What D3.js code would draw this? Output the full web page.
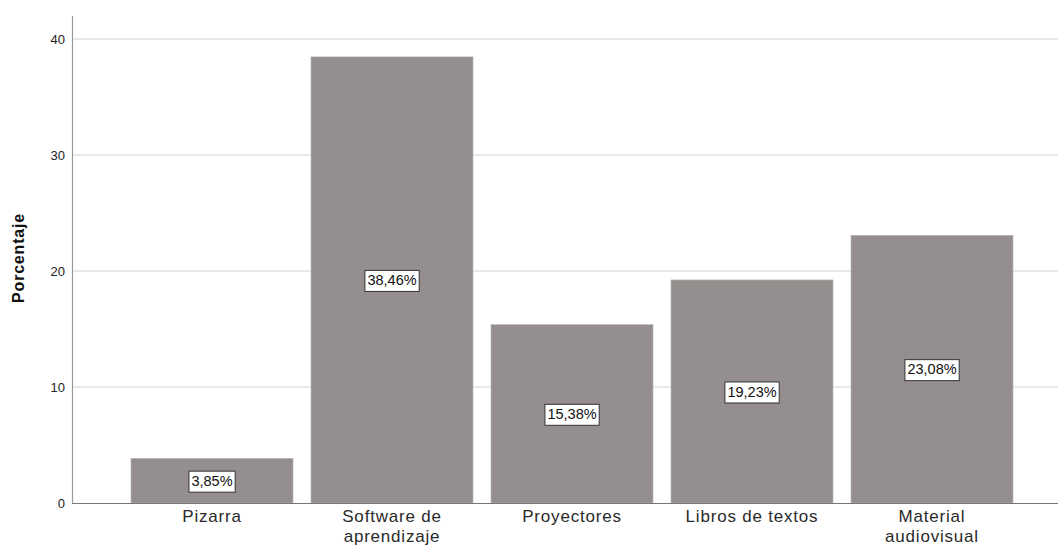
<!DOCTYPE html>
<html>
<head>
    <title>Porcentaje</title>
    <script src="https://d3js.org/d3.v7.min.js"></script>
    <style>
        body { margin: 0; background: #fff; }
        svg { display: block; font-family: "Liberation Sans", Arial, sans-serif; }
    </style>
</head>
<body>
    <div id="chart"></div>
    <script>
        // datos
        var categories = ["Pizarra", "Software de|aprendizaje", "Proyectores", "Libros de textos", "Material|audiovisual"];
        var values = [3.85, 38.46, 15.38, 19.23, 23.08];
        var labels = ["3,85%", "38,46%", "15,38%", "19,23%", "23,08%"];
        var yTicks = [0, 10, 20, 30, 40];

        var W = 1058, H = 548;

        var svg = d3.select("#chart")
            .append("svg")
                .attr("width", W)
                .attr("height", H);

        var x = d3.scaleBand()
            .domain(categories)
            .range([113, 1031])
            .paddingInner(0.1)
            .paddingOuter(0.1);

        var y = d3.scaleLinear()
            .domain([0, 40])
            .range([503, 39]);

        // grid
        svg.append("g")
            .selectAll("line")
            .data(yTicks.slice(1))
            .enter()
            .append("line")
                .attr("x1", 72)
                .attr("x2", W)
                .attr("y1", function(d) { return y(d); })
                .attr("y2", function(d) { return y(d); })
                .attr("stroke", "#d2d2d2")
                .attr("stroke-width", 1);

        // bars
        svg.append("g")
            .selectAll("rect")
            .data(values)
            .enter()
            .append("rect")
                .attr("x", function(d, i) { return x(categories[i]); })
                .attr("y", function(d) { return y(d); })
                .attr("width", x.bandwidth())
                .attr("height", function(d) { return y(0) - y(d); })
                .attr("fill", "#948f8e")
                .attr("stroke", "#b8b4b3")
                .attr("stroke-width", 0.6);

        // y axis
        var yAxis = svg.append("g")
            .attr("transform", "translate(72,0)")
            .call(d3.axisLeft(y).tickValues(yTicks).tickSize(0).tickPadding(7));
        yAxis.select(".domain").remove();
        yAxis.selectAll("text")
            .style("font-size", "13px")
            .style("font-family", "\"Liberation Sans\", Arial, sans-serif")
            .attr("fill", "#222");
        svg.append("line")
            .attr("x1", 72.5).attr("x2", 72.5)
            .attr("y1", 16).attr("y2", 503)
            .attr("stroke", "#999")
            .attr("stroke-width", 1.2);

        // x axis
        svg.append("line")
            .attr("x1", 72).attr("x2", W)
            .attr("y1", 503.5).attr("y2", 503.5)
            .attr("stroke", "#777")
            .attr("stroke-width", 1.2);

        // x labels, one text per line
        categories.forEach(function(c) {
            c.split("|").forEach(function(part, k) {
                svg.append("text")
                    .attr("x", x(c) + x.bandwidth() / 2)
                    .attr("y", 522 + k * 20)
                    .attr("text-anchor", "middle")
                    .style("font-size", "17px")
                    .style("letter-spacing", "0.8px")
                    .attr("fill", "#2a2a2a")
                    .text(part);
            });
        });

        svg.append("text")
            .attr("transform", "translate(24,258) rotate(-90)")
            .attr("text-anchor", "middle")
            .style("font-size", "16px")
            .style("font-weight", "bold")
            .style("letter-spacing", "0.8px")
            .attr("fill", "#111")
            .text("Porcentaje");

        // value labels
        var lab = svg.append("g")
            .selectAll("g")
            .data(values)
            .enter()
            .append("g")
                .attr("transform", function(d, i) {
                    return "translate(" + (x(categories[i]) + x.bandwidth() / 2) + "," + y(d / 2) + ")";
                });
        lab.append("text")
            .attr("text-anchor", "middle")
            .attr("dy", "0.36em")
            .style("font-size", "14.5px")
            .attr("fill", "#111")
            .text(function(d, i) { return labels[i]; });
        lab.each(function() {
            var g = d3.select(this);
            var bb = g.select("text").node().getBBox();
            g.insert("rect", "text")
                .attr("x", bb.x - 2.5)
                .attr("y", -9.5)
                .attr("width", bb.width + 5)
                .attr("height", 21)
                .attr("fill", "#fff")
                .attr("stroke", "#333")
                .attr("stroke-width", 1);
        });
    </script>
</body>
</html>
